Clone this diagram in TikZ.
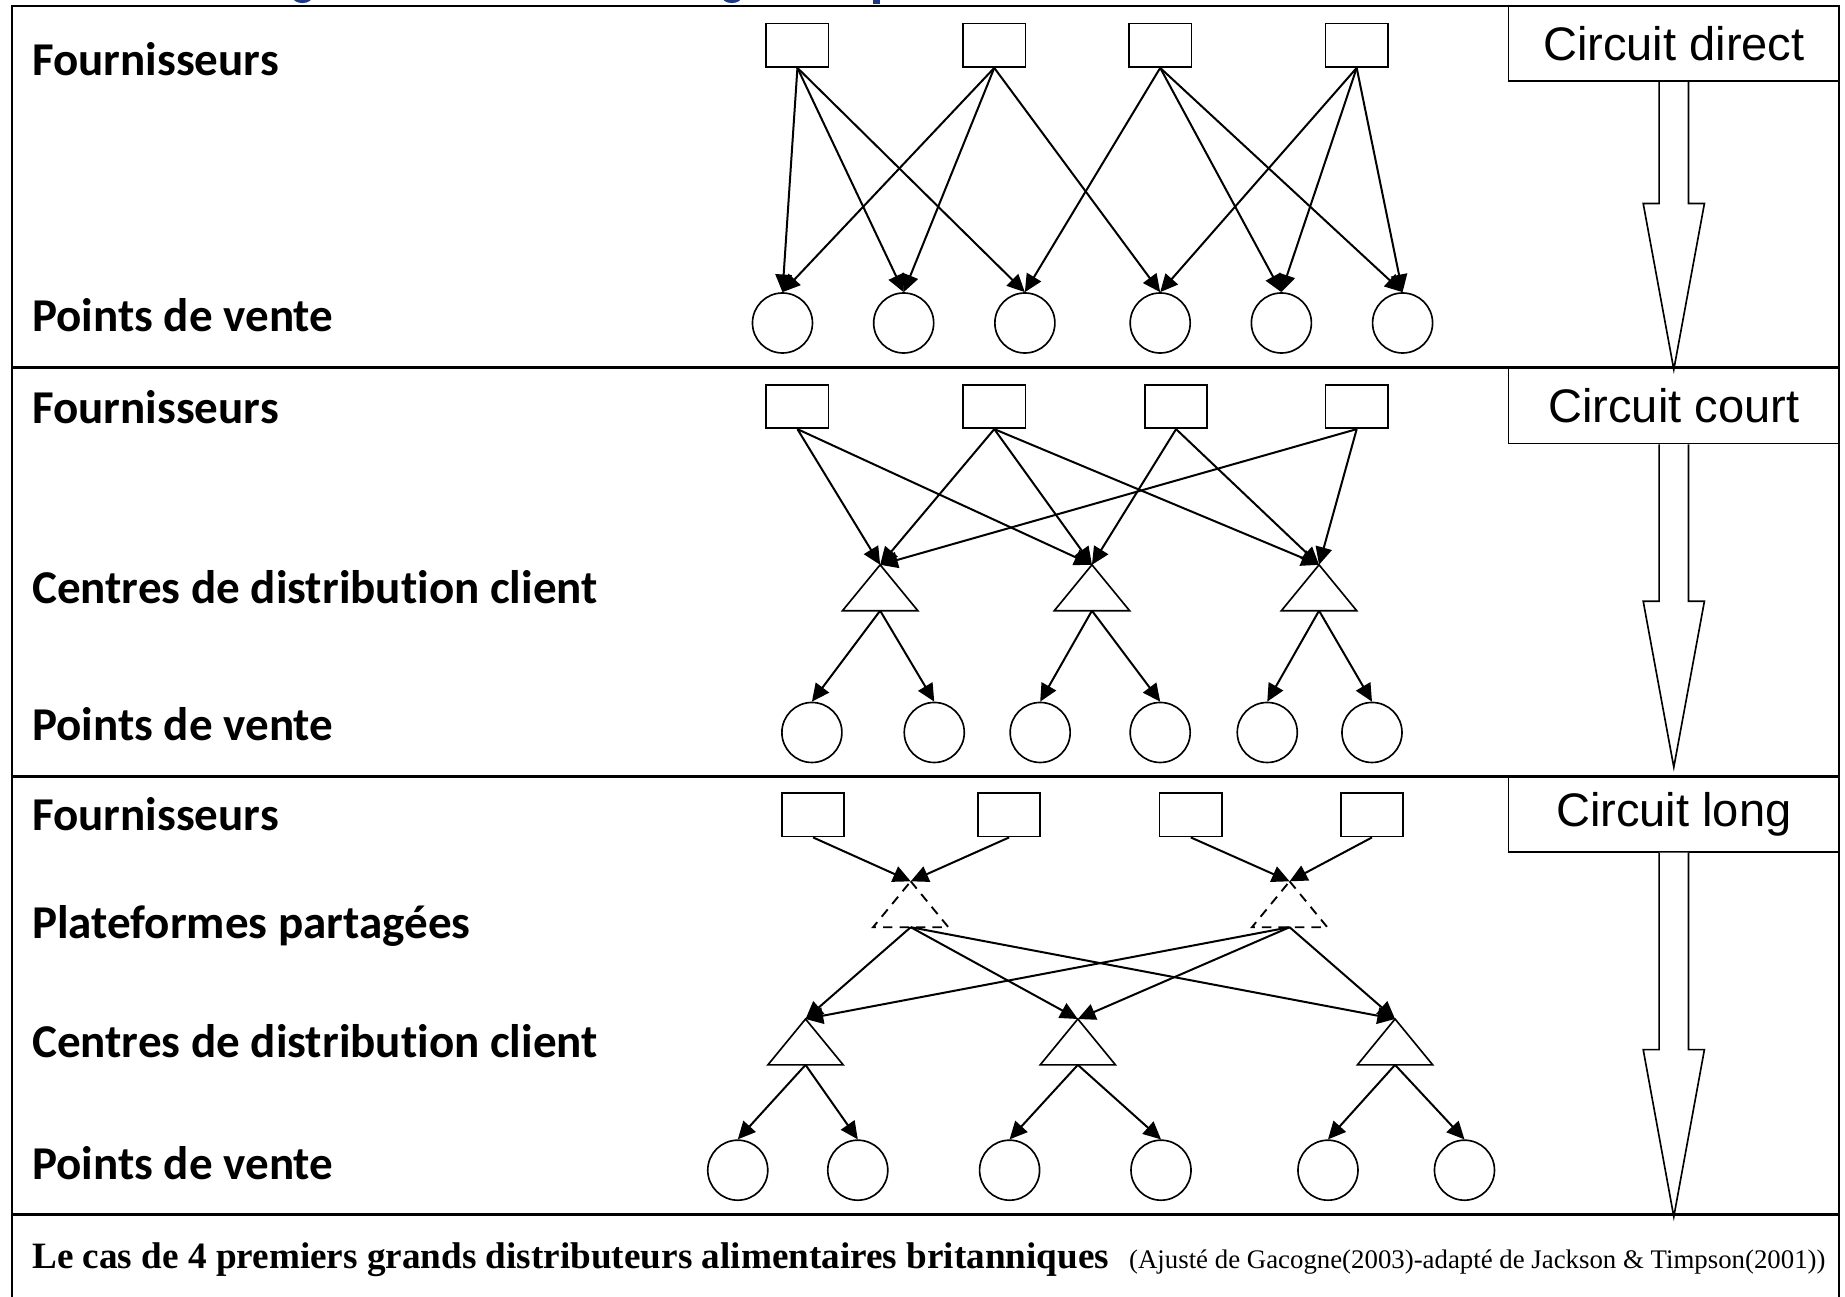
\documentclass[tikz,border=0pt]{standalone}
\usepackage{fontspec}
\usetikzlibrary{arrows.meta,calc}
\newfontfamily\labfont[Ligatures=NoCommon]{Carlito}
\newfontfamily\boxfont{Liberation Sans}
\newfontfamily\capfont{Liberation Serif}
\definecolor{titleblue}{RGB}{31,56,130}

\tikzset{
  frameline/.style={line width=1pt},
  sepline/.style={line width=1.2pt},
  supbox/.style={draw, line width=0.7pt, rectangle, minimum width=26.5pt, minimum height=18.5pt, inner sep=0pt},
  shop/.style={draw, line width=0.7pt, circle, minimum size=25.5pt, inner sep=0pt},
  flow/.style={line width=0.85pt, -{Triangle[length=7.5pt,width=7pt]}},
  rowlab/.style={anchor=base west, inner sep=0pt, font=\labfont\bfseries\fontsize{20}{24}\selectfont},
  circbox/.style={draw, line width=0.7pt, minimum width=140.5pt, minimum height=32pt, inner sep=0pt, font=\boxfont\fontsize{20}{24}\selectfont},
  bigarrow/.style={draw, line width=0.7pt, fill=white, line join=miter},
  soltri/.style={draw, line width=0.7pt},
  dashtri/.style={draw, line width=0.8pt, dash pattern=on 4pt off 3pt},
}

% triangle: apex coordinate #1, base centre #1-b
\newcommand\mktri[4]{%
  \coordinate (#1) at (#2,#3);
  \coordinate (#1-b) at ($(#1)+(0,39)$);
  \draw[#4] (#1) -- ++(32,39) -- ++(-64,0) -- cycle;
}
% hollow arrow under a circuit box: #1 box, #2 head start y, #3 tip y
\newcommand\hollowarrow[3]{%
  \coordinate (#1-h) at (1422.5,#2);
  \coordinate (#1-t) at (1422.5,#3);
  \draw[bigarrow] ($(#1.south)+(-12.5,0)$) -- ($(#1-h)+(-12.5,0)$) -- ($(#1-h)+(-26,0)$)
    -- (#1-t) -- ($(#1-h)+(26,0)$) -- ($(#1-h)+(12.5,0)$) -- ($(#1.south)+(12.5,0)$);
}

\begin{document}
\begin{tikzpicture}[x=0.5pt, y=-0.5pt]
\useasboundingbox (0,0) rectangle (1568,1102);

% descenders of the heading above the frame
\begin{scope}
  \clip (0,0) rectangle (1568,4);
  \fill[titleblue] (257,-3) ellipse [x radius=4.3pt, y radius=2.8pt];
  \fill[titleblue] (622,-3) ellipse [x radius=4.3pt, y radius=2.8pt];
  \fill[titleblue] (742,-2) rectangle (748,3);
\end{scope}

% outer frame and section separators
\draw[frameline] (10,1104) -- (10,5) -- (1563,5) -- (1563,1104);
\draw[sepline] (10,312) -- (1563,312);
\draw[sepline] (10,660) -- (1563,660);
\draw[sepline] (10,1032) -- (1563,1032);

% row labels
\node[rowlab] (l11) at (27,64) {Fournisseurs};
\node[rowlab] (l12) at (27,282) {Points de vente};
\node[rowlab] (l21) at (27,360) {Fournisseurs};
\node[rowlab] (l22) at (27,513) {Centres de distribution client};
\node[rowlab] (l23) at (27,629) {Points de vente};
\node[rowlab] (l31) at (27,706) {Fournisseurs};
\node[rowlab] (l32) at (27,798) {Plateformes partagées};
\node[rowlab] (l33) at (27,899) {Centres de distribution client};
\node[rowlab] (l34) at (27,1002) {Points de vente};

% circuit boxes and hollow arrows
\node[circbox] (cd) at (1422.5,37) {Circuit direct};
\node[circbox, minimum height=32.5pt] (cc) at (1422.5,344.5) {Circuit court};
\node[circbox] (cl) at (1422.5,692) {Circuit long};
\hollowarrow{cd}{173}{314}
\hollowarrow{cc}{511}{652}
\hollowarrow{cl}{892}{1034}

% ---- circuit direct ----
\node[supbox] (a1) at (677.7,38.5) {};
\node[supbox] (a2) at (845,38.5) {};
\node[supbox] (a3) at (986,38.5) {};
\node[supbox] (a4) at (1153,38.5) {};
\foreach \n/\x in {1/665,2/768,3/871,4/986,5/1089,6/1192}
  \node[shop] (b\n) at (\x,274.5) {};
\foreach \s/\t in {1/1,1/2,1/3,2/1,2/2,2/4,3/3,3/5,3/6,4/4,4/5,4/6}
  \draw[flow] (a\s.south) -- (b\t.north);

% ---- circuit court ----
\node[supbox] (c1) at (677.7,345.5) {};
\node[supbox] (c2) at (845,345.5) {};
\node[supbox] (c3) at (999.5,345.5) {};
\node[supbox] (c4) at (1153,345.5) {};
\mktri{d1}{748}{480}{soltri}
\mktri{d2}{928}{480}{soltri}
\mktri{d3}{1121}{480}{soltri}
\foreach \n/\x in {1/690,2/794,3/884,4/986,5/1077,6/1166}
  \node[shop] (e\n) at (\x,622.5) {};
\foreach \s/\t in {1/1,1/2,2/1,2/2,2/3,3/2,3/3,4/1,4/3}
  \draw[flow] (c\s.south) -- (d\t);
\foreach \s/\t in {1/1,1/2,2/3,2/4,3/5,3/6}
  \draw[flow] (d\s-b) -- (e\t.north);

% ---- circuit long ----
\node[supbox] (f1) at (691,692.5) {};
\node[supbox] (f2) at (857.6,692.5) {};
\node[supbox] (f3) at (1012,692.5) {};
\node[supbox] (f4) at (1166,692.5) {};
\mktri{g1}{774}{749}{dashtri}
\mktri{g2}{1096}{749}{dashtri}
\mktri{h1}{684.6}{866}{soltri}
\mktri{h2}{916}{866}{soltri}
\mktri{h3}{1185.6}{866}{soltri}
\foreach \n/\x in {1/627,2/729,3/858,4/986.7,5/1128.6,6/1244.6}
  \node[shop] (k\n) at (\x,994.5) {};
\foreach \s/\t in {1/1,2/1,3/2,4/2}
  \draw[flow] (f\s.south) -- (g\t);
\foreach \s/\t in {1/1,1/2,1/3,2/1,2/2,2/3}
  \draw[flow] (g\s-b) -- (h\t);
\foreach \s/\t in {1/1,1/2,2/3,2/4,3/5,3/6}
  \draw[flow] (h\s-b) -- (k\t.north);

% caption
\node[anchor=base west, inner sep=0pt] (cap) at (27,1078)
  {\capfont\bfseries\fontsize{15.8}{18}\selectfont Le cas de 4 premiers grands distributeurs alimentaires britanniques\hspace{8.5pt}\mdseries\fontsize{11.4}{13}\selectfont (Ajusté de Gacogne(2003)-adapté de Jackson \& Timpson(2001))};
\end{tikzpicture}
\end{document}
